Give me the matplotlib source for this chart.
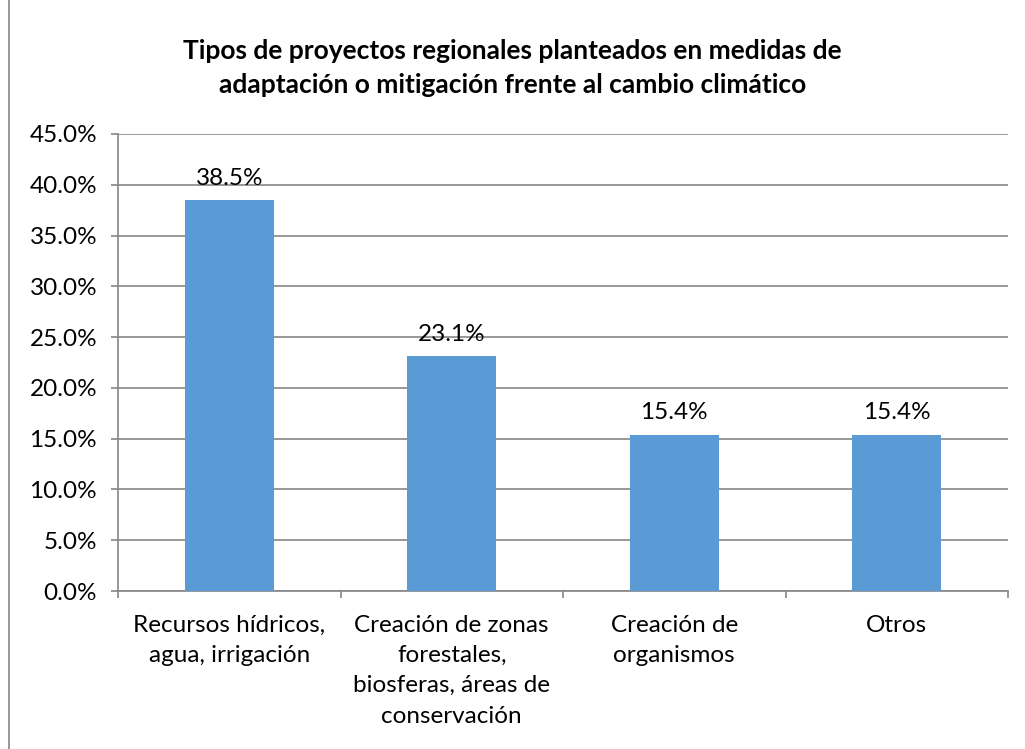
import numpy as np
import matplotlib.pyplot as plt
from matplotlib.ticker import FuncFormatter, FixedLocator

categories = ["Recursos hídricos,\nagua, irrigación",
              "Creación de zonas\nforestales,\nbiosferas, áreas de\nconservación",
              "Creación de\norganismos",
              "Otros"]
values = [38.5, 23.1, 15.4, 15.4]
title = "Tipos de proyectos regionales planteados en medidas de\nadaptación o mitigación frente al cambio climático"

plt.rcParams['font.family'] = ['Lato', 'DejaVu Sans']

fig = plt.figure(figsize=(10.25, 7.49), dpi=100)
ax = fig.add_axes([118/1025, 1 - 591/749, (1008-118)/1025, (591-134)/749])

x = np.arange(len(categories))
ax.bar(x, values, width=0.4, color='#5B9BD5', zorder=3)
for xi, v in zip(x, values):
    ax.text(xi, v + 1.1, f"{v:.1f}%", ha='center', va='bottom', fontsize=17.5, color='#000000')

ax.set_xlim(-0.5, len(categories) - 0.5)
ax.set_ylim(0, 45)
ax.set_yticks(np.arange(0, 46, 5))
ax.yaxis.set_major_formatter(FuncFormatter(lambda v, p: f"{v:.1f}%"))
ax.grid(axis='y', color='#868686', linewidth=1.2, zorder=0)

ax.set_xticks(x)
ax.set_xticklabels(categories, fontsize=17.5, linespacing=1.55, va='top')
ax.xaxis.set_minor_locator(FixedLocator(np.arange(-0.5, len(categories), 1)))
ax.tick_params(axis='x', which='major', length=0, pad=17)
ax.tick_params(axis='x', which='minor', length=5, color='#868686', width=1.2)
ax.tick_params(axis='y', labelsize=17.5, length=5, color='#868686', width=1.2, pad=10)

for s in ['top', 'right']:
    ax.spines[s].set_visible(False)
for s in ['left', 'bottom']:
    ax.spines[s].set_color('#868686')
    ax.spines[s].set_linewidth(1.2)

fig.text(0.5, 1 - 68/749, title, ha='center', va='center', fontsize=19,
         fontweight='bold', linespacing=1.5)

# chart border
fig.add_artist(plt.Line2D([9/1025, 9/1025], [0, 1], color='#868686', linewidth=1.2,
                          transform=fig.transFigure))

fig.savefig('out.png', dpi=100)
